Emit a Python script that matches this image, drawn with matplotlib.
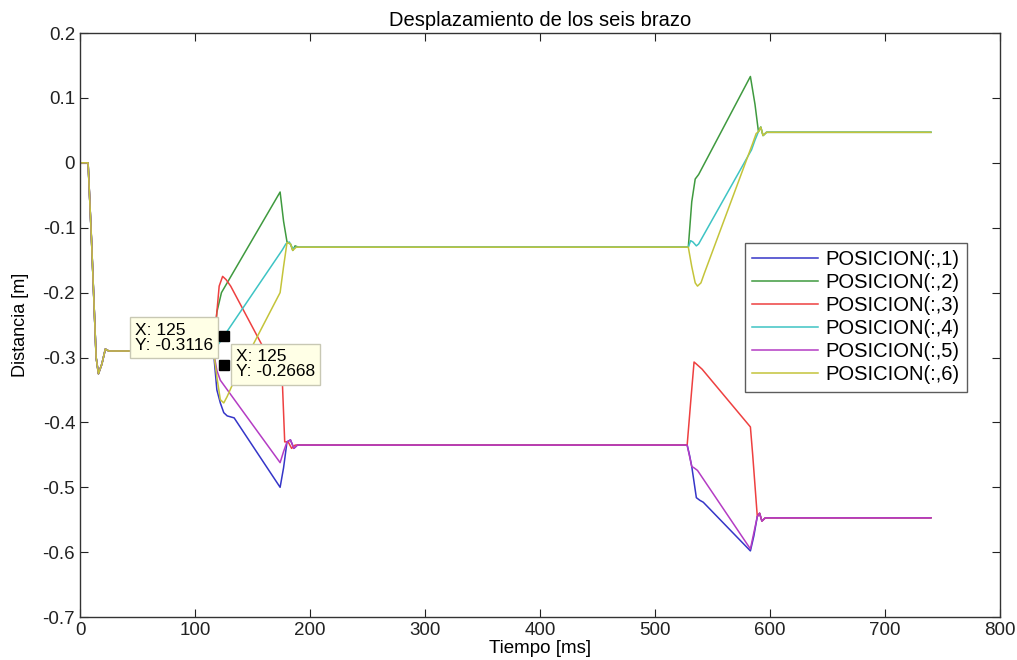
import matplotlib.pyplot as plt

plt.rcParams['font.family'] = ['Liberation Sans', 'DejaVu Sans']

# Tramo inicial común a los seis brazos
t_inicio = [0, 7, 10, 14, 16, 19, 22, 25, 116]
y_inicio = [0, 0, -0.12, -0.30, -0.325, -0.31, -0.287, -0.29, -0.29]

# Puntos de cada brazo después del tramo común (tiempo en ms, distancia en m)
t_pos1 = [119, 122, 125, 128, 134, 174, 177, 180, 183, 186, 189, 528, 530, 532, 536, 539, 542, 583, 586, 589, 591, 593, 596, 740]
y_pos1 = [-0.35, -0.37, -0.385, -0.39, -0.393, -0.5, -0.47, -0.43, -0.427, -0.44, -0.435, -0.435, -0.45, -0.468, -0.516, -0.52, -0.523, -0.598, -0.575, -0.545, -0.54, -0.552, -0.547, -0.547]

t_pos2 = [119, 123, 174, 177, 180, 183, 185, 187, 190, 529, 532, 535, 538, 583, 587, 590, 592, 594, 597, 740]
y_pos2 = [-0.23, -0.2, -0.045, -0.09, -0.122, -0.125, -0.135, -0.128, -0.13, -0.13, -0.06, -0.025, -0.018, 0.133, 0.09, 0.048, 0.055, 0.042, 0.047, 0.047]

t_pos3 = [119, 121, 124, 127, 131, 176, 178, 181, 184, 187, 528, 531, 534, 536, 541, 583, 585, 589, 591, 593, 596, 740]
y_pos3 = [-0.23, -0.19, -0.175, -0.18, -0.19, -0.34, -0.43, -0.43, -0.44, -0.435, -0.435, -0.37, -0.307, -0.31, -0.318, -0.407, -0.45, -0.545, -0.54, -0.552, -0.547, -0.547]

t_pos4 = [119, 176, 179, 182, 185, 188, 529, 531, 533, 536, 538, 584, 587, 590, 592, 594, 597, 740]
y_pos4 = [-0.283, -0.134, -0.125, -0.122, -0.132, -0.13, -0.13, -0.12, -0.122, -0.128, -0.125, 0.02, 0.035, 0.048, 0.055, 0.042, 0.047, 0.047]

t_pos5 = [119, 122, 174, 177, 180, 183, 186, 189, 528, 532, 534, 537, 583, 586, 589, 591, 593, 596, 740]
y_pos5 = [-0.32, -0.335, -0.462, -0.445, -0.43, -0.427, -0.44, -0.435, -0.435, -0.468, -0.47, -0.474, -0.595, -0.57, -0.545, -0.54, -0.552, -0.547, -0.547]

t_pos6 = [119, 122, 125, 128, 133, 174, 177, 180, 183, 185, 188, 529, 532, 535, 537, 540, 543, 585, 588, 590, 592, 594, 597, 740]
y_pos6 = [-0.33, -0.365, -0.37, -0.36, -0.34, -0.2, -0.16, -0.123, -0.125, -0.135, -0.13, -0.13, -0.16, -0.185, -0.19, -0.185, -0.17, 0.03, 0.045, 0.048, 0.055, 0.042, 0.047, 0.047]

series_t = [t_pos1, t_pos2, t_pos3, t_pos4, t_pos5, t_pos6]
series_y = [y_pos1, y_pos2, y_pos3, y_pos4, y_pos5, y_pos6]
etiquetas = ["POSICION(:,1)", "POSICION(:,2)", "POSICION(:,3)",
             "POSICION(:,4)", "POSICION(:,5)", "POSICION(:,6)"]
colores = ["#3535c8", "#3f9a3f", "#ee4040", "#3ec4c4", "#b43cc4", "#c4c43a"]

# Datatips
tip_x = [125, 125]
tip_y = [-0.2668, -0.3116]

fig = plt.figure(figsize=(10.17, 6.6), dpi=100)
ax = fig.add_axes([0.0787, 0.065, 0.9045, 0.885])

for tt, yy, c, lab in zip(series_t, series_y, colores, etiquetas):
    ax.plot(t_inicio + tt, y_inicio + yy, color=c, lw=1.1, label=lab)

ax.set_xlim(0, 800)
ax.set_ylim(-0.7, 0.2)
ax.set_xticks(range(0, 801, 100))
ax.set_yticks([-0.7, -0.6, -0.5, -0.4, -0.3, -0.2, -0.1, 0, 0.1, 0.2])
ax.set_yticklabels(["-0.7", "-0.6", "-0.5", "-0.4", "-0.3", "-0.2", "-0.1", "0", "0.1", "0.2"])
ax.tick_params(direction="in", top=True, right=True, length=6, labelsize=13.5, colors="#222222")
for s in ax.spines.values():
    s.set_color("#333333")
    s.set_linewidth(1.0)

ax.set_title("Desplazamiento de los seis brazo", fontsize=14.5, pad=5)
ax.set_xlabel("Tiempo [ms]", fontsize=13.5, labelpad=1)
ax.set_ylabel("Distancia [m]", fontsize=13, labelpad=10)

leg = ax.legend(loc="upper left", bbox_to_anchor=(0.7228, 0.640), borderaxespad=0,
                fontsize=14.5, frameon=True, fancybox=False, handlelength=3.3,
                labelspacing=0.2, borderpad=0.35, handletextpad=0.35)
leg.get_frame().set_edgecolor("#333333")
leg.get_frame().set_linewidth(1.0)

# cajas de datatip
caja = dict(boxstyle="square,pad=0.3", fc="#ffffe6", ec="#c8c8b4", lw=1)
ax.annotate("X: 125\nY: -0.3116", xy=(tip_x[0], tip_y[0]), xytext=(-89, -2),
            textcoords="offset pixels", fontsize=12.5, bbox=caja, zorder=5,
            va="center", linespacing=1.05)
ax.annotate("X: 125\nY: -0.2668", xy=(tip_x[1], tip_y[1]), xytext=(12, 1),
            textcoords="offset pixels", fontsize=12.5, bbox=caja, zorder=5,
            va="center", linespacing=1.05)
ax.plot(tip_x, tip_y, "s", color="black", ms=7, zorder=6)

fig.savefig("out.png", dpi=100)
